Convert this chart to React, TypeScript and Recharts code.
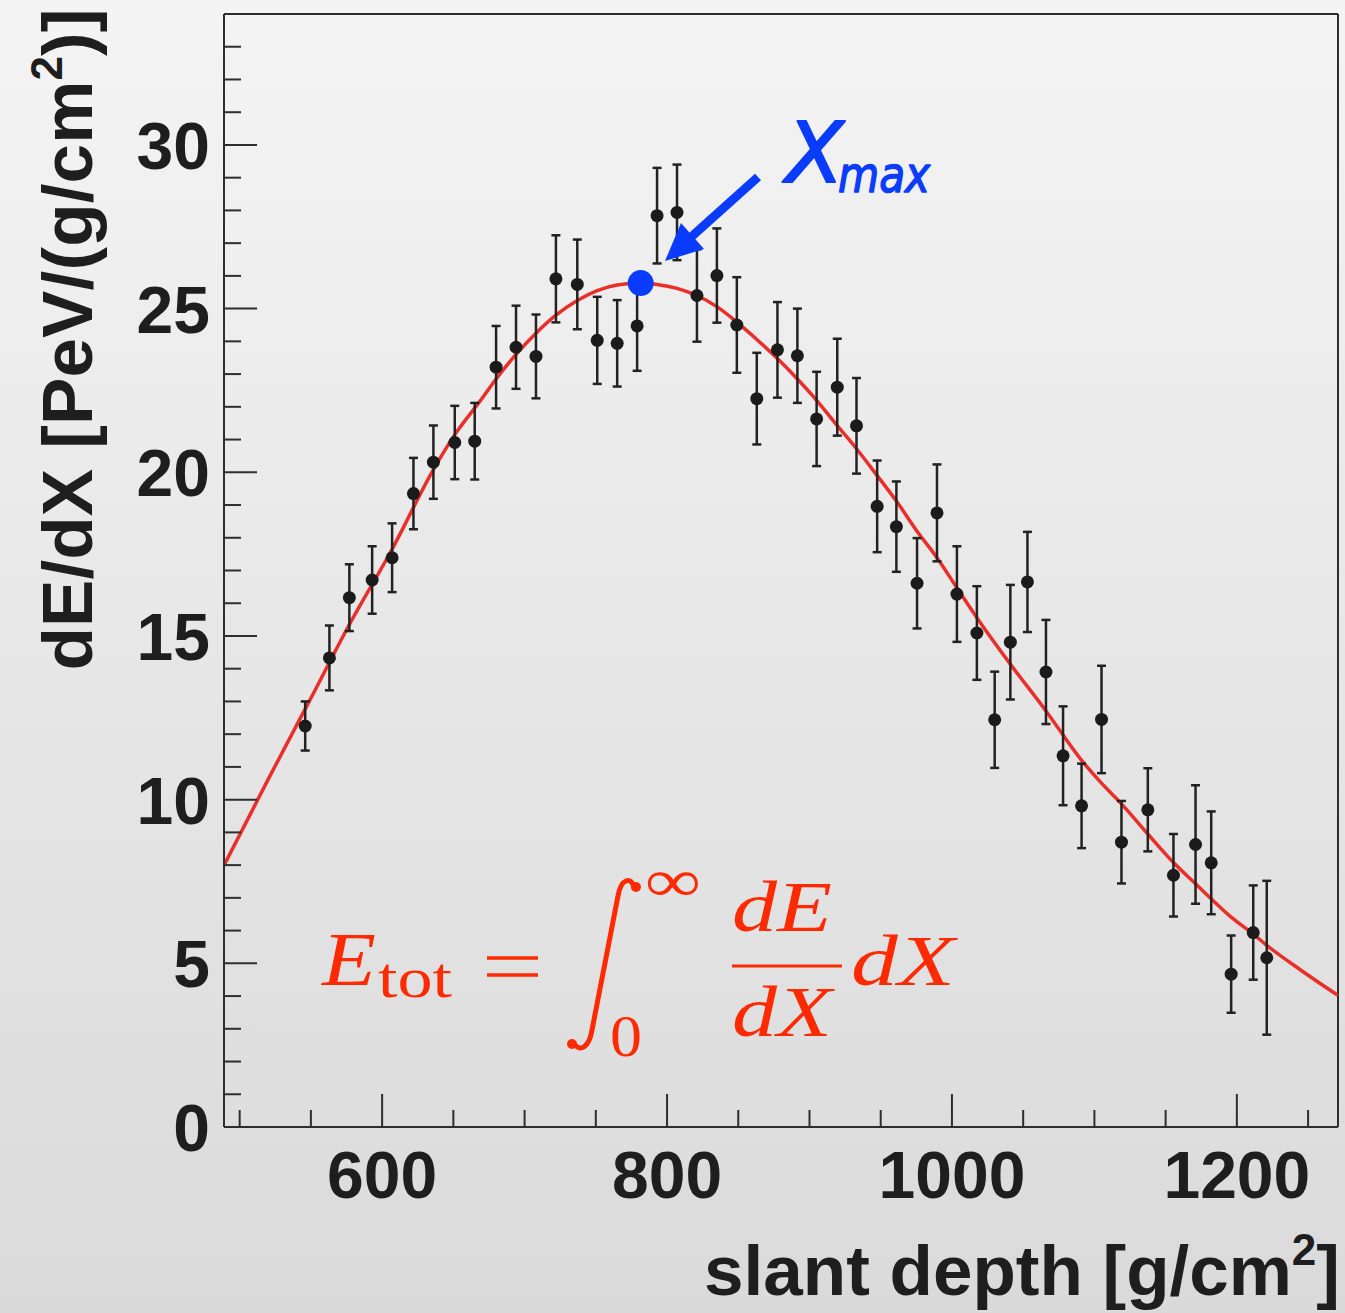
import React from "react";
import {
  ComposedChart,
  XAxis,
  YAxis,
  ZAxis,
  Line,
  Scatter,
  ErrorBar,
  ReferenceLine,
  Label,
} from "recharts";

// measured profile: slant depth [g/cm2], dE/dX [PeV/(g/cm2)], error
const depth = [
  546, 563, 577, 593, 607, 622, 636, 651, 665, 680, 694, 708, 722, 737, 751,
  765, 779, 793, 807, 821, 835, 849, 863, 877.5, 891.5, 905, 919.5, 933, 947.5,
  961, 975.5, 989.5, 1003.5, 1017.5, 1030, 1041, 1053, 1066, 1078, 1091, 1105,
  1119, 1137.5, 1155.5, 1171, 1182, 1196, 1211.5, 1221,
];
const dEdX = [
  12.25, 14.33, 16.17, 16.71, 17.39, 19.35, 20.31, 20.91, 20.95, 23.21, 23.82,
  23.54, 25.91, 25.74, 24.03, 23.94, 24.47, 27.84, 27.94, 25.4, 26.01, 24.5,
  22.25, 23.74, 23.56, 21.63, 22.6, 21.42, 18.96, 18.34, 16.61, 18.76, 16.28,
  15.09, 12.44, 14.81, 16.65, 13.9, 11.34, 9.81, 12.45, 8.7, 9.69, 7.69, 8.63,
  8.07, 4.67, 5.94, 5.17,
];
const dEdXErr = [
  0.75, 0.99, 1.02, 1.03, 1.05, 1.09, 1.12, 1.12, 1.17, 1.26, 1.27, 1.28, 1.33,
  1.37, 1.33, 1.32, 1.37, 1.46, 1.46, 1.41, 1.44, 1.46, 1.4, 1.46, 1.44, 1.44,
  1.48, 1.46, 1.4, 1.38, 1.38, 1.48, 1.46, 1.43, 1.47, 1.75, 1.53, 1.59, 1.51,
  1.29, 1.64, 1.26, 1.27, 1.26, 1.81, 1.57, 1.18, 1.44, 2.35,
];

// fitted profile
const fitDepth = [
  489, 520, 550, 577, 607, 636, 651, 668.5, 680, 694, 708, 722, 737, 751, 765,
  781.5, 793, 807, 821, 835, 850, 864, 878, 891.5, 905, 919, 933, 947.5, 961,
  975.5, 989.5, 1003.5, 1017.5, 1041, 1066, 1091, 1104, 1119, 1137.5, 1155.5,
  1171, 1182, 1196, 1211, 1221, 1245, 1271,
];
const fitValue = [
  7.99, 10.62, 13.1, 15.35, 17.65, 20.08, 21.15, 22.16, 22.85, 23.6, 24.25,
  24.8, 25.25, 25.55, 25.72, 25.78, 25.74, 25.62, 25.4, 25.06, 24.55, 24.02,
  23.45, 22.85, 22.2, 21.45, 20.72, 19.9, 19.12, 18.2, 17.39, 16.47, 15.56,
  14.14, 12.71, 11.2, 10.55, 9.87, 8.95, 8.08, 7.43, 6.97, 6.41, 5.91, 5.55,
  4.79, 4.02,
];

const xmaxDepth = [781.5];
const xmaxValue = [25.78];

const xTicks = [
  500, 550, 600, 650, 700, 750, 800, 850, 900, 950, 1000, 1050, 1100, 1150,
  1200, 1250,
];
const xMajorTicks = [600, 800, 1000, 1200];
const yTicks = [
  0, 1, 2, 3, 4, 5, 6, 7, 8, 9, 10, 11, 12, 13, 14, 15, 16, 17, 18, 19, 20, 21,
  22, 23, 24, 25, 26, 27, 28, 29, 30, 31, 32, 33,
];
const yMajorTicks = [0, 5, 10, 15, 20, 25, 30];

const points = depth.map((x, i) => ({ x, y: dEdX[i], err: dEdXErr[i] }));
const fit = fitDepth.map((x, i) => ({ x, y: fitValue[i] }));
const xmax = xmaxDepth.map((x, i) => ({ x, y: xmaxValue[i] }));

const SANS = '"Liberation Sans", Arial, Helvetica, sans-serif';
const SERIF = '"Liberation Serif", "Times New Roman", serif';
const AXIS = "#2e2e2e";
const TEXT = "#1e1e1e";
const RED = "#ff2a00";
const BLUE = "#0a3cff";

function XTick(props: any) {
  const { x, y, payload } = props;
  const major = xMajorTicks.includes(payload.value);
  return (
    <g>
      <line x1={x} x2={x} y1={y} y2={y - (major ? 33 : 17)} stroke={AXIS} strokeWidth={2} />
      {major && (
        <text x={x} y={y + 71} textAnchor="middle" fontFamily={SANS} fontWeight="bold" fontSize={66} fill={TEXT}>
          {payload.value}
        </text>
      )}
    </g>
  );
}

function YTick(props: any) {
  const { x, y, payload } = props;
  const major = yMajorTicks.includes(payload.value);
  return (
    <g>
      <line x1={x} x2={x + (major ? 33 : 17)} y1={y} y2={y} stroke={AXIS} strokeWidth={2} />
      {major && (
        <text x={x - 14} y={y + 24} textAnchor="end" fontFamily={SANS} fontWeight="bold" fontSize={66} fill={TEXT}>
          {payload.value}
        </text>
      )}
    </g>
  );
}

function XTitle(props: any) {
  const { x, y, width } = props.viewBox;
  return (
    <text x={x + width + 2} y={y + 168} textAnchor="end" fontFamily={SANS} fontWeight="bold" fontSize={71} fill={TEXT}>
      slant depth [g/cm
      <tspan dy={-30} fontSize={44}>2</tspan>
      <tspan dy={30}>]</tspan>
    </text>
  );
}

function YTitle(props: any) {
  const { y, height } = props.viewBox;
  const cy = y + height / 2 - 231;
  return (
    <text
      x={0}
      y={0}
      transform={`translate(92, ${cy}) rotate(-90)`}
      textAnchor="middle"
      fontFamily={SANS}
      fontWeight="bold"
      fontSize={71}
      fill={TEXT}
      textLength={662}
      lengthAdjust="spacing"
    >
      dE/dX [PeV/(g/cm
      <tspan dy={-30} fontSize={44}>2</tspan>
      <tspan dy={30}>)]</tspan>
    </text>
  );
}

function DataDot(props: any) {
  const { cx, cy } = props;
  return <circle cx={cx} cy={cy} r={6.5} fill="#1b1b1b" />;
}

function XmaxDot(props: any) {
  const { cx, cy } = props;
  return <circle cx={cx} cy={cy} r={13} fill={BLUE} />;
}

function Annotations() {
  return (
    <svg
      width={1345}
      height={1313}
      style={{ position: "absolute", left: 0, top: 0, pointerEvents: "none" }}
    >
      {/* X_max arrow and label */}
      <line x1={758} y1={177} x2={690} y2={238} stroke={BLUE} strokeWidth={9} />
      <polygon points="665,261 681,223 704,249" fill={BLUE} />
      <text
        x={786}
        y={182}
        fontFamily='"DejaVu Sans", sans-serif'
        fontStyle="italic"
        fontSize={84}
        fill={BLUE}
        stroke={BLUE}
        strokeWidth={2}
        strokeLinejoin="round"
      >
        X
      </text>
      <text
        x={838}
        y={192}
        fontFamily='"DejaVu Sans", sans-serif'
        fontStyle="italic"
        fontSize={50}
        fill={BLUE}
        stroke={BLUE}
        strokeWidth={1.5}
        strokeLinejoin="round"
        textLength={92}
        lengthAdjust="spacingAndGlyphs"
      >
        max
      </text>

      {/* E_tot formula */}
      <g fill={RED} fontFamily={SERIF}>
        <text x={322} y={985} fontStyle="italic" fontSize={76} textLength={54} lengthAdjust="spacingAndGlyphs">
          E
        </text>
        <text x={378} y={997} fontSize={56} textLength={74} lengthAdjust="spacingAndGlyphs">
          tot
        </text>
        <line x1={487} x2={538} y1={958} y2={958} stroke={RED} strokeWidth={3.5} />
        <line x1={487} x2={538} y1={975} y2={975} stroke={RED} strokeWidth={3.5} />
        <path
          d="M 634 888 C 632 876, 621 878, 618 896 L 592 1030 C 589 1048, 580 1052, 574 1044"
          fill="none"
          stroke={RED}
          strokeWidth={5}
          strokeLinecap="round"
        />
        <circle cx={636} cy={887} r={5} />
        <circle cx={572} cy={1044} r={5} />
        <text x={645} y={901} fontSize={60} textLength={56} lengthAdjust="spacingAndGlyphs">
          ∞
        </text>
        <text x={610} y={1056} fontSize={59} textLength={32} lengthAdjust="spacingAndGlyphs">
          0
        </text>
        <text x={732} y={931} fontStyle="italic" fontSize={72} textLength={100} lengthAdjust="spacingAndGlyphs">
          dE
        </text>
        <line x1={732} x2={842} y1={966} y2={966} stroke={RED} strokeWidth={3} />
        <text x={732} y={1036} fontStyle="italic" fontSize={72} textLength={100} lengthAdjust="spacingAndGlyphs">
          dX
        </text>
        <text x={851} y={985} fontStyle="italic" fontSize={72} textLength={104} lengthAdjust="spacingAndGlyphs">
          dX
        </text>
      </g>
    </svg>
  );
}

export default function App() {
  return (
    <div
      style={{
        position: "absolute",
        left: 0,
        top: 0,
        width: 1345,
        height: 1313,
        background: "linear-gradient(#f4f4f4, #dadada)",
      }}
    >
      <ComposedChart width={1345} height={1313} margin={{ top: 14, right: 7, bottom: 0, left: 0 }}>
        <XAxis
          type="number"
          dataKey="x"
          domain={[489, 1271]}
          allowDataOverflow
          ticks={xTicks}
          interval={0}
          tickSize={0}
          tickMargin={0}
          tick={<XTick />}
          height={186}
          axisLine={{ stroke: AXIS, strokeWidth: 2 }}
        >
          <Label content={<XTitle />} />
        </XAxis>
        <YAxis
          type="number"
          domain={[0, 34]}
          allowDataOverflow
          ticks={yTicks}
          interval={0}
          tickSize={0}
          tickMargin={0}
          tick={<YTick />}
          width={224}
          axisLine={{ stroke: AXIS, strokeWidth: 2 }}
        >
          <Label content={<YTitle />} />
        </YAxis>
        <ZAxis range={[140, 140]} />
        <ReferenceLine y={34} stroke={AXIS} strokeWidth={2} />
        <ReferenceLine x={1271} stroke={AXIS} strokeWidth={2} />
        <Line
          data={fit}
          dataKey="y"
          type="monotone"
          stroke="#ea2f2a"
          strokeWidth={3.5}
          dot={false}
          activeDot={false}
          isAnimationActive={false}
        />
        <Scatter
          data={points}
          dataKey="y"
          fill="#1b1b1b"
          isAnimationActive={false}
          shape={<DataDot />}
        >
          <ErrorBar dataKey="err" direction="y" width={4.5} stroke="#222222" strokeWidth={2.5} />
        </Scatter>
        <Scatter data={xmax} dataKey="y" fill={BLUE} isAnimationActive={false} shape={<XmaxDot />} />
      </ComposedChart>
      <Annotations />
    </div>
  );
}
